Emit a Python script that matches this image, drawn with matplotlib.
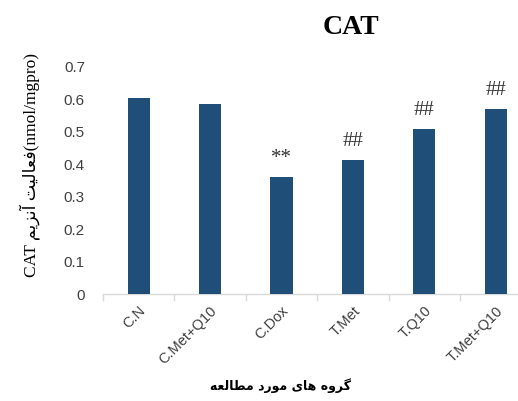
import numpy as np
import matplotlib
matplotlib.use("Agg")
import matplotlib.pyplot as plt

# data
groups = ["C.N", "C.Met+Q10", "C.Dox", "T.Met", "T.Q10", "T.Met+Q10"]
cat_values = [0.603, 0.587, 0.362, 0.412, 0.508, 0.570]
marks = ["", "", "**", "##", "##", "##"]
y_ticks = [0, 0.1, 0.2, 0.3, 0.4, 0.5, 0.6, 0.7]
y_tick_labels = ["0", "0.1", "0.2", "0.3", "0.4", "0.5", "0.6", "0.7"]

# Persian text, already shaped and in visual (left-to-right) order
enzyme = "\uFEE2\uFEF3\uFEB0\uFEE7\uFE81"           # آنزیم
activity = "\uFE96\uFEF4\uFEDF\uFE8E\uFECC\uFED3"    # فعالیت
y_label = "CAT " + enzyme + " " + activity + "(nmol/mgpro)"
x_label = ("\uFEEA\uFECC\uFEDF\uFE8E\uFEC4\uFEE3" + " " +   # مطالعه
           "\u062F\u0631\uFEEE\uFEE3" + " " +               # مورد
           "\u06CC\uFE8E\uFEEB" + " " +                     # های
           "\uFEE9\uFEED\uFEAE\uFB94")                      # گروه

bar_color = "#1F4E79"
axis_gray = "#D9D9D9"
text_gray = "#404040"

fig = plt.figure(figsize=(5.18, 4.01), dpi=100)
# plot area runs past the right edge like in the reference
ax = fig.add_axes([103 / 518, 1 - 294 / 401, 428.5 / 518, (294 - 67) / 401])

x = np.arange(len(groups))
ax.bar(x, cat_values, width=0.31, color=bar_color, zorder=3)

for xi, v, m in zip(x, cat_values, marks):
    if m:
        ax.text(xi, v + 0.028, m, ha="center", va="bottom", fontsize=15,
                family="Liberation Serif", color="#333333")

ax.set_xlim(-0.5, 5.5)
ax.set_ylim(0, 0.7)
ax.set_yticks(y_ticks)
ax.set_yticklabels(y_tick_labels, family="Liberation Sans", fontsize=11,
                   color=text_gray)
ax.tick_params(axis="y", length=0, pad=13)

ax.set_xticks(x)
ax.set_xticklabels(groups, rotation=45, ha="right", rotation_mode="anchor",
                   family="Liberation Sans", fontsize=10.5, color=text_gray)
ax.tick_params(axis="x", which="major", length=0, pad=7)
ax.set_xticks(np.arange(-0.5, 6, 1), minor=True)
ax.tick_params(axis="x", which="minor", length=5, width=1, color=axis_gray)

for s in ["top", "right", "left"]:
    ax.spines[s].set_visible(False)
ax.spines["bottom"].set_color(axis_gray)
ax.spines["bottom"].set_linewidth(1)

fig.text(351 / 518, 1 - 27 / 401, "CAT", ha="center", va="center",
         fontsize=20, fontweight="bold", family="Liberation Serif")
fig.text(30 / 518, 1 - 165 / 401, y_label, rotation=90, ha="center",
         va="center", fontsize=12.5,
         family=["Liberation Serif", "DejaVu Sans"])
fig.text(281 / 518, 1 - 386 / 401, x_label, ha="center", va="center",
         fontsize=9, fontweight="bold", family=["DejaVu Sans"])

fig.savefig("out.png", dpi=100)
